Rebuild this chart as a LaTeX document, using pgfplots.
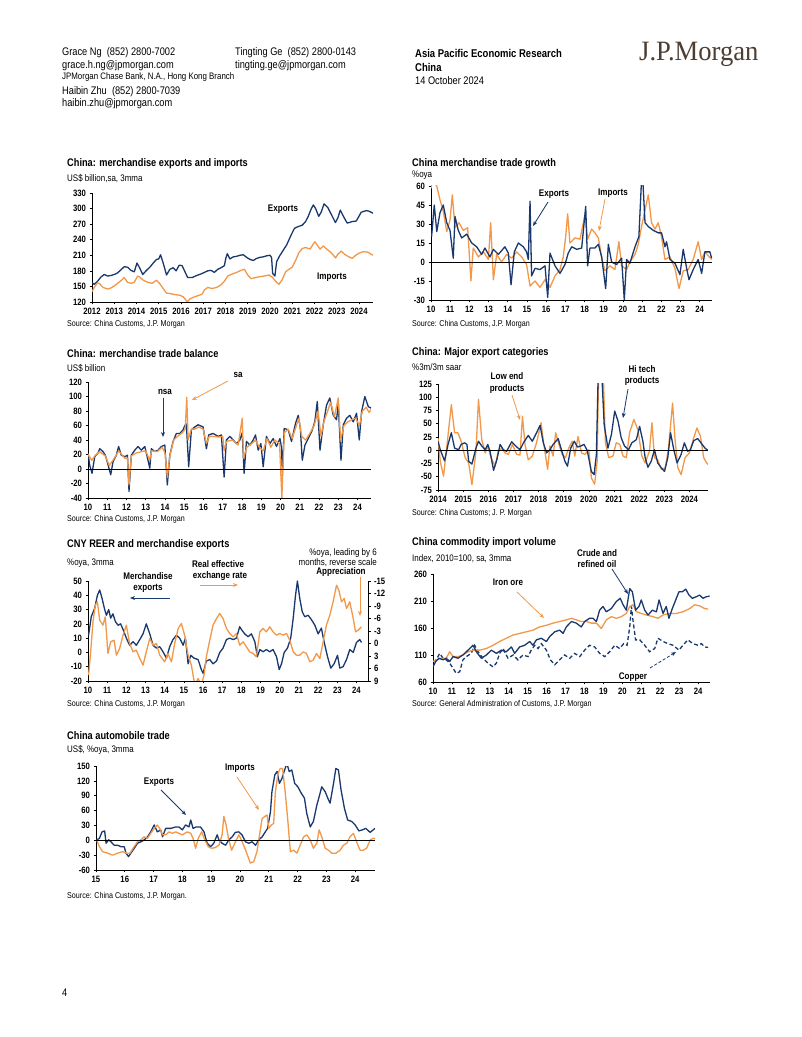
\documentclass[border=0pt]{standalone}
\usepackage{fontspec}
\setmainfont[FakeStretch=0.84]{Liberation Sans}
\newfontfamily\logofont[FakeStretch=0.95]{Liberation Serif}
\usepackage{pgfplots}
\pgfplotsset{compat=1.18}
\usetikzlibrary{arrows.meta}
\definecolor{navy}{RGB}{24,56,110}
\definecolor{orng}{RGB}{242,152,72}
\definecolor{logob}{RGB}{78,62,50}
\newcommand{\ttl}{\fontsize{11}{12}\selectfont\bfseries}
\newcommand{\sbt}{\fontsize{9.5}{10}\selectfont}
\newcommand{\src}{\fontsize{8.5}{9}\selectfont}
\newcommand{\tck}{\fontsize{9.2}{10}\selectfont\bfseries}
\newcommand{\ann}{\fontsize{9.6}{10}\selectfont\bfseries}
\newcommand{\hdr}{\fontsize{11}{12}\selectfont}
\pgfplotsset{jp/.style={
  scale only axis, anchor=south west,
  axis x line*=bottom, axis y line*=left,
  axis line style={black, line width=0.6pt},
  tick align=outside, major tick length=2.5pt,
  tick style={black, line width=0.6pt},
  tick label style={font=\tck},
  /pgf/number format/assume math mode=true,
  /pgf/number format/1000 sep={},
  scaled ticks=false, enlargelimits=false, no markers, clip=true},
  nv/.style={navy, line width=1.3pt, line join=round},
  og/.style={orng, line width=1.3pt, line join=round},
  zl/.style={black, line width=0.7pt}}
\tikzset{arr/.style={line width=0.8pt, -{Stealth[length=5pt,width=4pt]}}}
\begin{document}
\begin{tikzpicture}
\path[use as bounding box, fill=white] (0,0) rectangle (802pt,1037pt);

% ---------- Chart 1 ----------
\begin{axis}[jp, at={(92pt,735pt)}, width=281pt, height=109pt,
  xmin=2012, xmax=2024.63, ymin=120, ymax=330,
  xtick={2012,2013,...,2024}, ytick={120,150,...,330}]
\addplot[nv] coordinates {(2012.00,157)(2012.10,154)(2012.25,160)(2012.40,168)(2012.55,173)(2012.70,170)(2012.85,171)(2013.00,173)(2013.15,176)(2013.30,182)(2013.45,188)(2013.60,187)(2013.75,181)(2013.90,178)(2014.02,195)(2014.15,185)(2014.28,173)(2014.45,181)(2014.60,187)(2014.75,195)(2014.90,202)(2015.00,203)(2015.08,211)(2015.20,195)(2015.35,172)(2015.50,183)(2015.65,186)(2015.78,180)(2015.92,191)(2016.05,190)(2016.18,178)(2016.30,167)(2016.50,167)(2016.70,171)(2016.90,174)(2017.05,177)(2017.20,180)(2017.35,181)(2017.50,177)(2017.65,183)(2017.80,186)(2017.95,190)(2018.02,205)(2018.08,213)(2018.20,203)(2018.35,207)(2018.50,208)(2018.65,210)(2018.80,211)(2018.95,206)(2019.10,202)(2019.25,200)(2019.40,204)(2019.55,206)(2019.70,207)(2019.85,209)(2020.00,210)(2020.07,206)(2020.12,175)(2020.22,170)(2020.30,198)(2020.45,210)(2020.60,220)(2020.75,230)(2020.96,250)(2021.10,262)(2021.25,265)(2021.45,268)(2021.60,275)(2021.72,285)(2021.86,300)(2021.95,307)(2022.05,300)(2022.19,285)(2022.30,293)(2022.43,309)(2022.60,302)(2022.80,285)(2022.94,273)(2023.05,282)(2023.16,297)(2023.30,285)(2023.47,272)(2023.70,275)(2023.88,276)(2024.10,293)(2024.33,296)(2024.45,295)(2024.63,291)};
\addplot[og] coordinates {(2012.00,140)(2012.10,148)(2012.25,157)(2012.35,155)(2012.50,148)(2012.70,145)(2012.85,147)(2013.00,151)(2013.15,156)(2013.30,161)(2013.45,167)(2013.60,158)(2013.75,156)(2013.90,158)(2014.05,170)(2014.15,168)(2014.30,162)(2014.50,158)(2014.70,156)(2014.90,162)(2015.05,155)(2015.20,146)(2015.35,137)(2015.55,136)(2015.75,134)(2015.95,133)(2016.10,130)(2016.20,125)(2016.28,120)(2016.40,126)(2016.55,129)(2016.75,132)(2016.95,135)(2017.05,143)(2017.20,148)(2017.40,146)(2017.60,148)(2017.80,153)(2017.95,160)(2018.10,170)(2018.30,174)(2018.50,177)(2018.70,181)(2018.85,183)(2019.00,172)(2019.15,165)(2019.35,167)(2019.55,169)(2019.75,170)(2019.95,172)(2020.10,168)(2020.25,160)(2020.40,154)(2020.55,163)(2020.70,178)(2020.85,183)(2021.00,187)(2021.15,200)(2021.30,215)(2021.45,223)(2021.60,225)(2021.80,222)(2021.95,232)(2022.02,236)(2022.15,228)(2022.25,222)(2022.40,228)(2022.55,222)(2022.75,215)(2022.95,205)(2023.05,212)(2023.20,218)(2023.35,212)(2023.50,208)(2023.70,204)(2023.85,210)(2024.00,214)(2024.20,217)(2024.40,216)(2024.55,212)(2024.63,210)};
\end{axis}

% ---------- Chart 2 ----------
\begin{axis}[jp, at={(431pt,737pt)}, width=281pt, height=114pt,
  xmin=10, xmax=24.64, ymin=-30, ymax=60,
  xtick={10,11,...,24}, ytick={-30,-15,...,60}]
\addplot[og] coordinates {(10.00,58)(10.07,65)(10.30,60)(10.47,49)(10.64,40)(10.82,24)(10.99,33)(11.11,53)(11.25,27)(11.46,31)(11.68,25)(11.91,27)(12.08,-15)(12.20,11)(12.47,4)(12.73,8)(12.99,2)(13.11,31)(13.25,-14)(13.42,6)(13.68,0)(13.94,6)(14.20,3)(14.46,8)(14.72,4)(14.98,-2)(15.16,-19)(15.42,-15)(15.68,-20)(15.94,-14)(16.20,-20)(16.46,-11)(16.72,-6)(16.89,4)(17.01,19)(17.12,38)(17.24,15)(17.50,19)(17.76,18)(18.02,37)(18.16,18)(18.37,26)(18.54,23)(18.72,19)(18.89,4)(19.06,-7)(19.32,-3)(19.58,-6)(19.79,16)(19.93,-3)(20.19,-6)(20.36,0)(20.63,6)(20.80,14)(20.97,28)(21.15,41)(21.32,53)(21.49,31)(21.67,26)(21.84,31)(22.01,20)(22.19,2)(22.45,4)(22.71,-5)(22.92,-21)(23.14,-7)(23.40,-6)(23.66,2)(23.92,16)(24.10,2)(24.27,8)(24.62,2)};
\addplot[nv] coordinates {(10.03,20)(10.17,45)(10.30,24)(10.47,39)(10.64,45)(10.82,31)(10.99,25)(11.16,3)(11.25,36)(11.42,25)(11.60,19)(11.86,22)(12.12,15)(12.38,12)(12.64,6)(12.81,11)(13.07,4)(13.25,10)(13.51,6)(13.85,12)(14.03,7)(14.17,-18)(14.34,8)(14.55,15)(14.81,12)(14.98,8)(15.07,2)(15.16,48)(15.24,-11)(15.42,-5)(15.68,-6)(15.94,-3)(16.08,-28)(16.20,7)(16.46,-3)(16.72,-9)(16.98,-2)(17.15,7)(17.33,12)(17.59,10)(17.85,11)(18.06,44)(18.16,-3)(18.28,11)(18.54,11)(18.72,14)(18.89,4)(19.10,-21)(19.24,14)(19.41,0)(19.67,-2)(19.93,3)(20.07,-30)(20.19,2)(20.36,-1)(20.63,12)(20.83,20)(21.00,75)(21.15,31)(21.32,28)(21.58,25)(21.84,23)(22.01,23)(22.19,12)(22.27,16)(22.45,2)(22.71,-1)(22.97,-10)(23.14,10)(23.32,-5)(23.44,-14)(23.66,-6)(23.92,2)(24.10,-9)(24.27,8)(24.53,8)(24.62,3)};
\addplot[zl] coordinates {(10,0)(24.64,0)};
\end{axis}

% ---------- Chart 3 ----------
\begin{axis}[jp, at={(88pt,539pt)}, width=283pt, height=116pt,
  xmin=10, xmax=24.7, ymin=-40, ymax=120,
  xtick={10,11,...,24}, ytick={-40,-20,...,120}]
\addplot[nv] coordinates {(10.00,22)(10.09,5)(10.21,-6)(10.35,17)(10.52,22)(10.61,28)(10.78,24)(10.90,19)(11.04,6)(11.18,-8)(11.30,10)(11.47,19)(11.59,31)(11.73,19)(11.91,17)(12.05,19)(12.13,-31)(12.25,19)(12.43,26)(12.60,31)(12.77,26)(12.95,31)(13.03,22)(13.21,1)(13.29,28)(13.47,24)(13.64,26)(13.81,31)(13.99,33)(14.12,-22)(14.25,19)(14.42,38)(14.59,49)(14.77,49)(14.94,54)(15.03,60)(15.11,62)(15.23,3)(15.37,54)(15.55,58)(15.72,61)(15.98,58)(16.15,28)(16.27,47)(16.50,49)(16.76,45)(16.93,47)(17.07,-11)(17.19,40)(17.37,45)(17.54,40)(17.71,35)(17.89,40)(18.01,50)(18.11,-6)(18.23,38)(18.41,33)(18.58,40)(18.70,47)(18.84,26)(18.98,35)(19.10,3)(19.27,45)(19.45,35)(19.62,42)(19.79,31)(19.97,42)(20.05,30)(20.10,-7)(20.19,56)(20.40,54)(20.57,38)(20.78,63)(20.92,74)(21.03,56)(21.13,12)(21.27,33)(21.44,42)(21.61,51)(21.78,65)(21.91,93)(22.05,26)(22.22,61)(22.39,88)(22.56,98)(22.74,74)(22.91,68)(23.00,90)(23.14,12)(23.26,61)(23.43,70)(23.60,74)(23.78,65)(23.95,77)(24.09,40)(24.21,79)(24.38,100)(24.56,86)(24.70,84)};
\addplot[og] coordinates {(10.00,20)(10.20,12)(10.35,18)(10.60,24)(10.90,18)(11.10,5)(11.30,12)(11.60,25)(11.90,15)(12.05,15)(12.13,-22)(12.25,18)(12.50,22)(12.80,24)(13.00,25)(13.20,12)(13.30,25)(13.60,24)(13.85,30)(14.00,22)(14.12,-12)(14.25,18)(14.45,40)(14.65,45)(14.90,50)(15.05,55)(15.13,99)(15.20,40)(15.37,55)(15.55,55)(15.75,58)(15.98,55)(16.15,35)(16.30,45)(16.50,45)(16.80,44)(17.00,45)(17.07,25)(17.20,38)(17.50,40)(17.80,33)(18.01,70)(18.08,15)(18.25,30)(18.50,35)(18.70,40)(18.90,30)(19.10,25)(19.30,42)(19.50,30)(19.70,40)(19.95,35)(20.07,-40)(20.12,0)(20.20,50)(20.40,55)(20.60,42)(20.80,58)(20.95,70)(21.10,45)(21.30,40)(21.50,48)(21.75,60)(21.95,80)(22.10,45)(22.25,65)(22.45,80)(22.60,92)(22.80,72)(23.00,98)(23.12,40)(23.30,60)(23.50,65)(23.70,68)(23.90,70)(24.10,60)(24.25,80)(24.45,85)(24.60,78)(24.70,82)};
\addplot[zl] coordinates {(10,0)(24.7,0)};
\end{axis}

% ---------- Chart 4 ----------
\begin{axis}[jp, at={(438pt,547pt)}, width=270pt, height=106pt,
  xmin=2014, xmax=2024.74, ymin=-75, ymax=125,
  xtick={2014,2015,...,2024}, ytick={-75,-50,...,125}]
\addplot[og] coordinates {(2014.00,23)(2014.09,-21)(2014.22,-49)(2014.36,11)(2014.53,86)(2014.66,33)(2014.79,33)(2014.92,17)(2015.08,-14)(2015.22,-24)(2015.35,-65)(2015.51,-2)(2015.61,96)(2015.74,20)(2015.88,-5)(2015.98,8)(2016.11,-14)(2016.27,-30)(2016.40,-2)(2016.54,4)(2016.67,-5)(2016.80,-8)(2016.96,11)(2017.13,-8)(2017.26,-9)(2017.36,64)(2017.46,11)(2017.59,-18)(2017.75,-11)(2017.92,14)(2018.10,52)(2018.19,17)(2018.36,-36)(2018.45,8)(2018.58,-11)(2018.68,33)(2018.81,11)(2018.94,-8)(2019.07,-14)(2019.20,4)(2019.34,17)(2019.44,-11)(2019.57,26)(2019.71,-5)(2019.84,-8)(2020.00,1)(2020.10,-52)(2020.23,-64)(2020.33,-21)(2020.39,150)(2020.57,150)(2020.66,14)(2020.79,-14)(2020.96,-11)(2021.09,14)(2021.23,11)(2021.36,-11)(2021.49,-14)(2021.62,33)(2021.79,58)(2021.95,39)(2022.11,-11)(2022.24,-24)(2022.41,-2)(2022.51,52)(2022.61,-14)(2022.74,-18)(2022.88,-36)(2023.04,-33)(2023.17,4)(2023.33,89)(2023.43,20)(2023.54,-33)(2023.67,-46)(2023.83,-14)(2024.00,-5)(2024.17,23)(2024.30,42)(2024.44,26)(2024.57,-14)(2024.66,-22)(2024.74,-27)};
\addplot[nv] coordinates {(2014.00,17)(2014.09,1)(2014.26,-20)(2014.40,11)(2014.53,33)(2014.66,4)(2014.82,1)(2014.92,11)(2015.06,14)(2015.15,11)(2015.22,-21)(2015.35,-26)(2015.51,4)(2015.61,17)(2015.74,8)(2015.88,1)(2015.98,11)(2016.07,-2)(2016.21,-38)(2016.34,-18)(2016.47,11)(2016.60,1)(2016.73,-2)(2016.93,16)(2017.09,8)(2017.26,1)(2017.40,14)(2017.59,28)(2017.75,17)(2017.92,33)(2018.06,47)(2018.19,14)(2018.32,-5)(2018.45,1)(2018.58,11)(2018.78,22)(2018.91,1)(2019.05,-21)(2019.15,-30)(2019.28,4)(2019.42,17)(2019.55,6)(2019.68,8)(2019.81,11)(2019.94,-1)(2020.10,-40)(2020.21,-46)(2020.30,-8)(2020.37,140)(2020.50,160)(2020.61,48)(2020.76,4)(2020.90,30)(2021.03,74)(2021.16,55)(2021.29,23)(2021.42,8)(2021.58,1)(2021.71,14)(2021.89,20)(2022.02,45)(2022.15,17)(2022.24,-14)(2022.35,-32)(2022.48,-21)(2022.61,1)(2022.74,-24)(2022.88,-33)(2023.01,-40)(2023.14,-14)(2023.25,33)(2023.38,1)(2023.51,-24)(2023.67,-8)(2023.80,14)(2023.93,-2)(2024.04,1)(2024.17,18)(2024.33,22)(2024.46,14)(2024.62,4)(2024.73,0)};
\addplot[zl] coordinates {(2014,0)(2024.74,0)};
\end{axis}

% ---------- Chart 5 ----------
\begin{axis}[jp, at={(88pt,356pt)}, width=280pt, height=100pt,
  xmin=10, xmax=24.6, ymin=-20, ymax=50,
  xtick={10,11,...,24}, ytick={-20,-10,...,50}]
\addplot[nv] coordinates {(10.03,12)(10.17,25)(10.35,31)(10.49,40)(10.61,43.7)(10.73,38)(10.87,30)(10.96,26)(11.08,30)(11.18,24)(11.30,27)(11.43,21.5)(11.57,19)(11.70,20)(11.83,16)(12.00,10)(12.17,5)(12.35,7.5)(12.52,5)(12.70,9)(12.87,13)(13.04,20)(13.22,13)(13.39,5)(13.57,3)(13.74,4)(13.91,0.5)(14.09,-4)(14.26,4)(14.43,9)(14.61,12)(14.78,10)(14.96,5)(15.08,10)(15.22,-8)(15.36,-2)(15.53,-4)(15.74,-5)(15.91,-12)(16.00,-14.6)(16.17,-6)(16.35,-5)(16.52,-8)(16.70,-6)(16.87,0)(17.04,3)(17.22,9)(17.39,10)(17.57,9)(17.74,10)(17.91,18)(18.00,16)(18.17,13)(18.35,11)(18.52,13)(18.70,7.5)(18.83,-3)(18.96,2)(19.13,0.5)(19.30,2)(19.48,0.5)(19.65,2)(19.83,-3)(19.97,-12)(20.09,-8)(20.23,0)(20.40,3)(20.57,10)(20.70,24)(20.82,40)(20.92,50)(21.04,38)(21.17,28.5)(21.30,25)(21.48,26)(21.65,23)(21.83,19)(22.00,13)(22.17,17)(22.31,7.5)(22.49,-3)(22.66,-11)(22.83,-8)(23.01,-2)(23.13,-11)(23.30,-10)(23.48,-5)(23.65,2)(23.83,0)(24.00,7)(24.17,9)(24.26,7)};
\end{axis}
\begin{axis}[jp, at={(88pt,356pt)}, width=280pt, height=100pt,
  axis x line=none, axis y line*=right, y dir=reverse,
  xmin=10, xmax=24.6, ymin=-15, ymax=9, ytick={-15,-12,...,9}]
\addplot[og] coordinates {(10.03,7.6)(10.14,2)(10.26,-5.2)(10.38,-9.2)(10.49,-10)(10.61,-5.6)(10.78,-4.4)(10.90,-6.4)(11.04,2.4)(11.18,-0.4)(11.36,-0.8)(11.48,2.8)(11.65,1.2)(11.83,-2)(12.00,-4.4)(12.17,0)(12.35,2)(12.52,1.6)(12.70,3.6)(12.87,5.2)(13.04,2)(13.22,-1.2)(13.39,0.4)(13.57,0)(13.74,2.8)(14.00,4.4)(14.17,2.4)(14.35,4.4)(14.52,0)(14.70,-3.6)(14.87,-4.8)(15.04,-2)(15.22,2.8)(15.39,5.2)(15.57,10)(15.74,8.4)(15.91,10)(16.05,7.6)(16.17,3.2)(16.35,-0.8)(16.52,-4.4)(16.70,-6)(16.87,-7.2)(17.04,-6)(17.22,-3.6)(17.39,-2.4)(17.57,-1.6)(17.74,-2.4)(17.91,0.4)(18.09,-0.4)(18.26,0.8)(18.43,2)(18.61,2.4)(18.78,3.2)(18.96,-2.8)(19.13,-3.6)(19.30,-2.8)(19.48,-4)(19.65,-2.8)(19.83,-2)(20.00,-2.4)(20.17,-2)(20.35,-2.4)(20.52,-0.8)(20.70,2)(20.87,2.8)(21.04,2.8)(21.22,2)(21.39,2.4)(21.57,4.4)(21.74,4)(21.91,2.4)(22.09,3.6)(22.26,-0.4)(22.43,-4.4)(22.61,-6.8)(22.78,-10)(22.96,-14)(23.08,-12.8)(23.22,-10)(23.36,-10.8)(23.48,-8.4)(23.65,-10)(23.83,-6)(23.95,-2.8)(24.09,-3.2)(24.26,-4)};
\end{axis}

% ---------- Chart 6 ----------
\begin{axis}[jp, at={(433pt,355pt)}, width=277pt, height=108pt,
  xmin=10, xmax=24.63, ymin=60, ymax=260,
  xtick={10,11,...,24}, ytick={60,110,160,210,260}]
\addplot[navy, line width=1.3pt, dash pattern=on 4pt off 2.5pt] coordinates {(10.00,98)(10.18,101)(10.35,113)(10.53,104)(10.70,101)(10.88,95)(11.06,85)(11.23,76)(11.41,79)(11.58,101)(11.76,107)(12.02,113)(12.20,128)(12.38,116)(12.64,104)(12.90,95)(13.17,88)(13.35,95)(13.52,113)(13.70,122)(13.96,104)(14.23,110)(14.49,101)(14.75,110)(15.02,107)(15.19,119)(15.37,128)(15.55,122)(15.72,131)(15.99,119)(16.20,101)(16.43,92)(16.69,101)(16.95,110)(17.22,104)(17.48,113)(17.75,107)(18.01,119)(18.27,128)(18.54,125)(18.80,113)(19.07,107)(19.33,116)(19.60,128)(19.86,122)(20.07,131)(20.25,128)(20.39,162)(20.48,200)(20.56,175)(20.70,138)(20.92,138)(21.18,128)(21.44,116)(21.71,122)(21.88,141)(22.15,135)(22.41,131)(22.68,128)(22.99,119)(23.20,128)(23.46,138)(23.73,131)(24.00,128)(24.17,131)(24.35,125)(24.53,124)};
\addplot[og] coordinates {(10.00,98)(10.18,101)(10.44,104)(10.70,104)(10.88,116)(11.06,107)(11.32,107)(11.58,110)(11.85,116)(12.11,119)(12.46,119)(12.82,122)(13.17,128)(13.52,135)(13.87,141)(14.23,147)(14.58,150)(14.93,153)(15.28,156)(15.63,162)(15.99,165)(16.34,169)(16.69,172)(17.04,175)(17.31,178)(17.57,175)(17.83,172)(18.10,172)(18.36,169)(18.63,169)(18.89,159)(19.15,175)(19.42,181)(19.68,178)(19.95,181)(20.21,187)(20.39,200)(20.56,203)(20.74,190)(21.00,187)(21.27,184)(21.62,181)(21.88,178)(22.15,184)(22.50,187)(22.85,187)(23.20,190)(23.56,196)(23.82,203)(24.08,201)(24.35,196)(24.53,195)};
\addplot[nv] coordinates {(10.00,88)(10.14,98)(10.32,104)(10.53,101)(10.70,104)(10.88,98)(11.06,107)(11.32,104)(11.58,110)(11.85,119)(12.11,128)(12.29,116)(12.55,104)(12.82,110)(13.08,119)(13.35,113)(13.61,119)(13.87,116)(14.14,125)(14.31,113)(14.58,125)(14.84,128)(15.11,135)(15.28,128)(15.46,138)(15.72,141)(15.99,135)(16.16,144)(16.43,153)(16.69,156)(16.87,150)(17.04,162)(17.31,172)(17.57,169)(17.83,162)(18.01,172)(18.27,178)(18.45,178)(18.63,172)(18.80,193)(18.98,200)(19.15,190)(19.42,196)(19.68,209)(19.89,215)(20.04,203)(20.21,193)(20.39,233)(20.53,227)(20.70,193)(20.88,200)(21.00,212)(21.18,193)(21.36,184)(21.58,193)(21.80,190)(21.94,212)(22.15,187)(22.32,200)(22.46,178)(22.64,196)(22.82,212)(22.99,227)(23.17,227)(23.35,232)(23.52,221)(23.70,215)(23.91,218)(24.08,221)(24.26,215)(24.44,218)(24.61,219)};
\end{axis}

% ---------- Chart 7 ----------
\begin{axis}[jp, at={(96pt,167pt)}, width=279pt, height=104pt,
  xmin=15, xmax=24.69, ymin=-60, ymax=150,
  xtick={15,16,...,24}, ytick={-60,-30,...,150}]
\addplot[nv] coordinates {(15.02,0.6)(15.12,4)(15.21,17)(15.30,19)(15.35,-6)(15.44,1)(15.52,-3)(15.63,-10)(15.75,-10)(15.87,-13)(15.98,-13)(16.04,-26)(16.13,-33)(16.21,-26)(16.33,-16)(16.44,-6)(16.56,-3)(16.67,0.6)(16.79,7)(16.90,17)(17.02,31)(17.13,17)(17.25,21)(17.31,7)(17.42,24)(17.60,24)(17.77,27)(17.88,27)(18.00,21)(18.11,31)(18.23,27)(18.29,41)(18.37,24)(18.48,27)(18.63,27)(18.75,17)(18.86,-6)(18.98,-13)(19.09,-6)(19.21,11)(19.27,0.6)(19.38,-6)(19.50,-10)(19.61,0.6)(19.73,7)(19.84,16)(19.96,17)(20.07,11)(20.19,-3)(20.31,-6)(20.42,-3)(20.54,-10)(20.65,0.6)(20.77,7)(20.88,17)(20.96,24)(21.06,58)(21.11,98)(21.21,132)(21.29,139)(21.37,115)(21.46,125)(21.55,142)(21.63,155)(21.71,139)(21.80,142)(21.90,115)(22.01,108)(22.13,95)(22.24,85)(22.32,54)(22.44,27)(22.55,38)(22.67,71)(22.75,88)(22.84,108)(22.96,98)(23.05,85)(23.13,75)(23.25,115)(23.33,145)(23.42,142)(23.51,102)(23.63,64)(23.74,41)(23.88,38)(24.00,31)(24.13,19)(24.25,21)(24.37,24)(24.52,16)(24.69,24)};
\addplot[og] coordinates {(15.02,0.6)(15.12,-13)(15.23,-23)(15.40,-26)(15.58,-30)(15.75,-26)(15.92,-23)(16.06,-26)(16.18,-26)(16.29,-16)(16.44,-3)(16.56,0.6)(16.67,7)(16.79,4)(16.90,14)(17.02,24)(17.13,31)(17.21,24)(17.31,11)(17.42,11)(17.54,17)(17.65,14)(17.77,17)(17.88,14)(18.00,11)(18.17,17)(18.29,14)(18.37,4)(18.46,-16)(18.55,4)(18.67,17)(18.78,0.6)(18.90,-13)(19.01,-16)(19.13,-15)(19.27,-10)(19.38,11)(19.44,48)(19.52,31)(19.61,0.6)(19.71,-20)(19.82,-6)(19.96,11)(20.05,0.6)(20.17,-16)(20.28,-33)(20.36,-46)(20.48,-43)(20.59,-23)(20.67,7)(20.77,44)(20.86,48)(20.94,51)(21.00,24)(21.09,31)(21.17,34)(21.23,98)(21.32,135)(21.40,145)(21.48,145)(21.57,98)(21.66,41)(21.75,-23)(21.86,-20)(21.98,-26)(22.09,-10)(22.21,7)(22.32,11)(22.44,0.6)(22.55,-16)(22.67,-6)(22.75,21)(22.84,7)(22.96,-16)(23.07,-20)(23.19,-26)(23.33,-26)(23.48,-20)(23.59,-10)(23.71,-6)(23.82,7)(23.94,14)(24.05,-3)(24.17,-20)(24.28,-20)(24.40,-16)(24.52,0.6)(24.63,4)(24.69,3)};
\addplot[zl] coordinates {(15,0)(24.69,0)};
\end{axis}

% ---------- Text and annotations (pixel coords, y down) ----------
\begin{scope}[x=1pt, y=-1pt, yshift=1037pt]
% header
\node[anchor=west, font=\hdr, inner sep=0pt] at (62,53) {Grace Ng\ \ (852) 2800-7002};
\node[anchor=west, font=\hdr, inner sep=0pt] at (62,65.5) {grace.h.ng@jpmorgan.com};
\node[anchor=west, font=\fontsize{9.4}{10}\selectfont, inner sep=0pt] at (62,77.5) {JPMorgan Chase Bank, N.A., Hong Kong Branch};
\node[anchor=west, font=\hdr, inner sep=0pt] at (62,91.5) {Haibin Zhu\ \ (852) 2800-7039};
\node[anchor=west, font=\hdr, inner sep=0pt] at (62,104) {haibin.zhu@jpmorgan.com};
\node[anchor=west, font=\hdr, inner sep=0pt] at (235,53) {Tingting Ge\ \ (852) 2800-0143};
\node[anchor=west, font=\hdr, inner sep=0pt] at (235,65.5) {tingting.ge@jpmorgan.com};
\node[anchor=west, font=\fontsize{11.3}{12}\selectfont\bfseries, inner sep=0pt] at (415,53) {Asia Pacific Economic Research};
\node[anchor=west, font=\fontsize{11.3}{12}\selectfont\bfseries, inner sep=0pt] at (415,67) {China};
\node[anchor=west, font=\hdr, inner sep=0pt] at (415,81) {14 October 2024};
\node[anchor=west, font=\logofont\fontsize{28}{30}\selectfont, text=logob, inner sep=0pt] at (639,54) {J.P.Morgan};
\node[anchor=west, font=\hdr, inner sep=0pt] at (62,993) {4};
% chart 1
\node[anchor=west, font=\ttl, inner sep=0pt] at (67,163.5) {China: merchandise exports and imports};
\node[anchor=west, font=\sbt, inner sep=0pt] at (67,178.5) {US\$ billion,sa, 3mma};
\node[anchor=west, font=\src, inner sep=0pt] at (67,324) {Source: China Customs, J.P. Morgan};
\node[font=\ann, inner sep=0pt] at (283,209) {Exports};
\node[font=\ann, inner sep=0pt] at (332,277) {Imports};
% chart 2
\node[anchor=west, font=\ttl, inner sep=0pt] at (412,164) {China merchandise trade growth};
\node[anchor=west, font=\sbt, inner sep=0pt] at (412,175.5) {\%oya};
\node[anchor=west, font=\src, inner sep=0pt] at (412,324) {Source: China Customs, J.P. Morgan};
\node[font=\ann, inner sep=0pt] at (554,194) {Exports};
\draw[arr, navy] (548,202) -- (533,226);
\node[font=\ann, inner sep=0pt] at (613,193) {Imports};
\draw[arr, orng] (605,199) -- (599,231);
% chart 3
\node[anchor=west, font=\ttl, inner sep=0pt] at (67,354) {China: merchandise trade balance};
\node[anchor=west, font=\sbt, inner sep=0pt] at (67,368) {US\$ billion};
\node[anchor=west, font=\src, inner sep=0pt] at (67,519) {Source: China Customs, J.P. Morgan};
\node[font=\ann, inner sep=0pt] at (165,392) {nsa};
\draw[arr, navy] (163,398) -- (163,437);
\node[font=\ann, inner sep=0pt] at (238,375) {sa};
\draw[arr, orng] (228,381) -- (192,400);
% chart 4
\node[anchor=west, font=\ttl, inner sep=0pt] at (412,353) {China: Major export categories};
\node[anchor=west, font=\sbt, inner sep=0pt] at (412,367) {\%3m/3m saar};
\node[anchor=west, font=\src, inner sep=0pt] at (412,513) {Source: China Customs; J. P. Morgan};
\node[font=\ann, inner sep=0pt] at (507,376) {Low end};
\node[font=\ann, inner sep=0pt] at (507,389) {products};
\draw[arr, orng] (512,395) -- (520,420);
\node[font=\ann, inner sep=0pt] at (642,369) {Hi tech};
\node[font=\ann, inner sep=0pt] at (642,381) {products};
\draw[arr, navy] (628,389) -- (623,418);
% chart 5
\node[anchor=west, font=\ttl, inner sep=0pt] at (67,545) {CNY REER and merchandise exports};
\node[anchor=west, font=\sbt, inner sep=0pt] at (67,563) {\%oya, 3mma};
\node[anchor=west, font=\src, inner sep=0pt] at (67,704) {Source: China Customs, J.P. Morgan};
\node[font=\ann, inner sep=0pt] at (148,576) {Merchandise};
\node[font=\ann, inner sep=0pt] at (148,588) {exports};
\draw[arr, navy] (170,598) -- (130,598);
\node[font=\ann, inner sep=0pt] at (218,564) {Real effective};
\node[font=\ann, inner sep=0pt] at (220,576) {exchange rate};
\draw[arr, orng] (200,585) -- (238,585);
\node[anchor=east, font=\sbt, inner sep=0pt] at (377,553) {\%oya, leading by 6};
\node[anchor=east, font=\sbt, inner sep=0pt] at (377,562.5) {months, reverse scale};
\node[font=\ann, inner sep=0pt] at (341,572) {Appreciation};
\draw[arr, orng] (360,577) -- (360,616);
% chart 6
\node[anchor=west, font=\ttl, inner sep=0pt] at (412,543) {China commodity import volume};
\node[anchor=west, font=\sbt, inner sep=0pt] at (412,559) {Index, 2010=100, sa, 3mma};
\node[anchor=west, font=\src, inner sep=0pt] at (412,704) {Source: General Administration of Customs, J.P. Morgan};
\node[font=\ann, inner sep=0pt] at (597,553) {Crude and};
\node[font=\ann, inner sep=0pt] at (597,564.5) {refined oil};
\draw[arr, navy] (612,569) -- (628,594);
\node[font=\ann, inner sep=0pt] at (508,582) {Iron ore};
\draw[arr, orng] (517,592) -- (544,618);
\node[font=\ann, inner sep=0pt] at (633,677) {Copper};
\draw[arr, navy, dash pattern=on 3pt off 2pt] (650,668) -- (676,652);
% chart 7
\node[anchor=west, font=\ttl, inner sep=0pt] at (67,736) {China automobile trade};
\node[anchor=west, font=\sbt, inner sep=0pt] at (67,750) {US\$, \%oya, 3mma};
\node[anchor=west, font=\src, inner sep=0pt] at (67,896) {Source: China Customs, J.P. Morgan.};
\node[font=\ann, inner sep=0pt] at (159,782) {Exports};
\draw[arr, navy] (161,790) -- (186,815);
\node[font=\ann, inner sep=0pt] at (240,768) {Imports};
\draw[arr, orng] (237,777) -- (259,810);
\end{scope}
\end{tikzpicture}
\end{document}
